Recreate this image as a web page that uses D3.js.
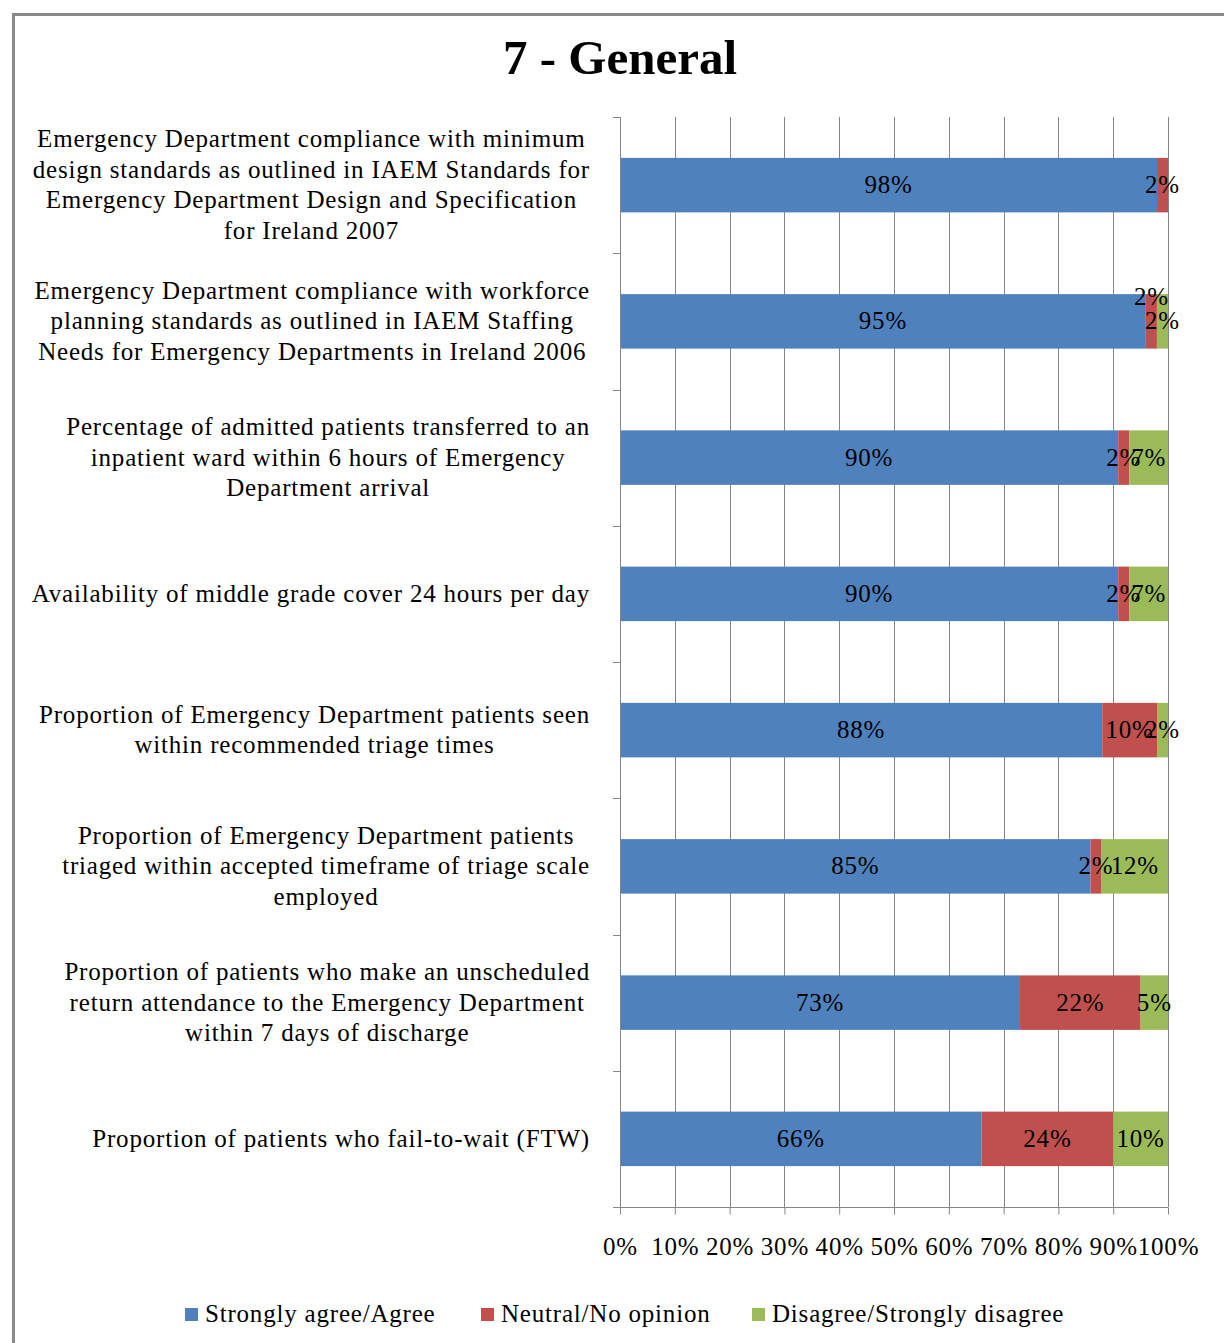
<!DOCTYPE html>
<html><head><meta charset="utf-8">
<script src="https://cdn.jsdelivr.net/npm/d3@7"></script>
<style>
body{margin:0;background:#fff}
text{font-family:"Liberation Serif","Times New Roman",serif;fill:#000}
</style>
</head><body>
<svg id="c" width="1224" height="1343"></svg>
<script>
const categories = [
  "Emergency Department compliance with minimum\ndesign standards as  outlined in IAEM Standards for\nEmergency Department Design and Specification\nfor Ireland 2007",
  "Emergency Department compliance with workforce\nplanning standards as outlined in IAEM Staffing\nNeeds for Emergency Departments in Ireland 2006",
  "Percentage of admitted patients transferred to an\ninpatient ward within 6 hours of Emergency\nDepartment arrival",
  "Availability of middle grade cover 24 hours per day",
  "Proportion of Emergency Department patients seen\nwithin recommended triage times",
  "Proportion of Emergency Department patients\ntriaged within accepted timeframe of triage scale\nemployed",
  "Proportion of patients who make an unscheduled\nreturn attendance to the Emergency Department\nwithin 7 days of discharge",
  "Proportion of patients who fail-to-wait (FTW)"
];
const agree    = [98, 95, 90, 90, 88, 85, 73, 66];
const neutral  = [2, 2, 2, 2, 10, 2, 22, 24];
const disagree = [0, 2, 7, 7, 2, 12, 5, 10];
const seriesNames = ["Strongly agree/Agree", "Neutral/No opinion", "Disagree/Strongly disagree"];
const seriesColors = ["#4F81BD", "#C0504D", "#9BBB59"];
const xTickValues = [0, 0.1, 0.2, 0.3, 0.4, 0.5, 0.6, 0.7, 0.8, 0.9, 1.0];
const titleText = "7 - General";

const svg = d3.select("#c");
const W = 1224, H = 1343;
const plot = {left: 620, right: 1168, top: 117, bottom: 1207};
const FS = 25;
const LS = "0.8px";

// frame
svg.append("line").attr("x1", 13.5).attr("x2", 13.5).attr("y1", 13).attr("y2", H).attr("stroke", "#8a8a8a").attr("stroke-width", 3);
svg.append("line").attr("x1", 12).attr("x2", W).attr("y1", 14.5).attr("y2", 14.5).attr("stroke", "#8a8a8a").attr("stroke-width", 3);

// title
svg.append("text").attr("x", 620).attr("y", 74).attr("text-anchor", "middle")
  .attr("font-size", 49).attr("font-weight", "bold").text(titleText);

const keys = ["a", "n", "d"];
const rows = categories.map((c, i) => ({cat: c, a: agree[i], n: neutral[i], d: disagree[i], idx: i}));
const stack = d3.stack().keys(keys).offset(d3.stackOffsetExpand);
const series = stack(rows);

const x = d3.scaleLinear().domain([0, 1]).range([plot.left, plot.right]);
const y = d3.scaleBand().domain(categories).range([plot.top, plot.bottom]).paddingInner(0.6).paddingOuter(0.3);
const yb = d3.scaleBand().domain(categories).range([plot.top, plot.bottom]);

// gridlines
svg.append("g").selectAll("line").data(xTickValues.slice(1)).join("line")
  .attr("x1", d => Math.round(x(d)) + 0.5).attr("x2", d => Math.round(x(d)) + 0.5)
  .attr("y1", plot.top).attr("y2", plot.bottom)
  .attr("stroke", "#868686").attr("stroke-width", 1);

// bars
const gS = svg.append("g").selectAll("g").data(series).join("g").attr("fill", (d, i) => seriesColors[i]);
gS.selectAll("rect").data(d => d).join("rect")
  .attr("x", d => x(d[0])).attr("width", d => x(d[1]) - x(d[0]))
  .attr("y", d => y(d.data.cat)).attr("height", y.bandwidth());

// axes
const xAxis = d3.axisBottom(x).tickValues(xTickValues).tickFormat(d => Math.round(d * 100) + "%").tickSize(7).tickPadding(23);
const gx = svg.append("g").attr("transform", `translate(0,${plot.bottom + 0.5})`).call(xAxis);
gx.select(".domain").attr("stroke", "#868686").attr("d", `M${plot.left - 7},0H${plot.right}`);
gx.selectAll(".tick line").attr("stroke", "#868686");
gx.selectAll(".tick text").attr("font-size", FS).attr("font-family", null).attr("letter-spacing", LS).attr("fill", "#000");

// y axis: line + ticks at band boundaries
const yTicks = categories.map(c => yb(c)).concat([plot.bottom]);
const gy = svg.append("g");
gy.append("line").attr("x1", plot.left + 0.5).attr("x2", plot.left + 0.5).attr("y1", plot.top).attr("y2", plot.bottom).attr("stroke", "#868686");
gy.selectAll("line.t").data(yTicks).join("line").attr("class", "t")
  .attr("x1", plot.left - 7).attr("x2", plot.left).attr("y1", d => Math.round(d) + 0.5).attr("y2", d => Math.round(d) + 0.5)
  .attr("stroke", "#868686");

// category labels
const labelRight = 590, lineH = 30.5;
categories.forEach((c, i) => {
  const lines = c.split("\n");
  const cy = yb(c) + yb.bandwidth() / 2;
  const t = svg.append("text").attr("font-size", FS).attr("letter-spacing", LS).attr("text-anchor", "middle");
  const spans = lines.map((l, k) => t.append("tspan").attr("y", cy + (k - (lines.length - 1) / 2) * lineH + 8).text(l));
  const maxW = d3.max(spans, s => s.node().getComputedTextLength());
  spans.forEach(s => s.attr("x", labelRight - maxW / 2));
});

// data labels
series.forEach((s, si) => {
  s.forEach(d => {
    const v = [agree, neutral, disagree][si][d.data.idx];
    if (!v) return;
    let cy = y(d.data.cat) + y.bandwidth() / 2 + 8;
    if (si === 1 && d.data.idx === 1) cy -= 24;
    svg.append("text").attr("x", (x(d[0]) + x(d[1])) / 2).attr("y", cy)
      .attr("text-anchor", "middle").attr("font-size", FS).attr("letter-spacing", LS).text(v + "%");
  });
});

// legend
const legendX = [185, 481, 752];
seriesNames.forEach((n, i) => {
  svg.append("rect").attr("x", legendX[i]).attr("y", 1308).attr("width", 13).attr("height", 13).attr("fill", seriesColors[i]);
  svg.append("text").attr("x", legendX[i] + 20).attr("y", 1322).attr("font-size", FS).attr("letter-spacing", LS).text(n);
});
</script>
</body></html>
